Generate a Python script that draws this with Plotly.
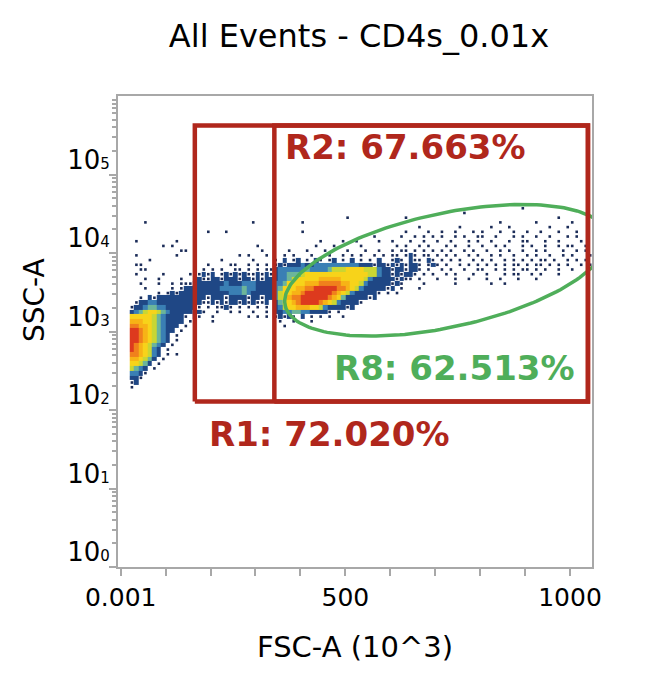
import numpy as np
import plotly.graph_objects as go

title_text = "All Events - CD4s_0.01x"
x_title = "FSC-A (10^3)"
y_title = "SSC-A"

# density map: FSC bins of 10 (x10^3), SSC bins of 0.06 decades,
# rows listed top (log10 SSC = 4.60) to bottom (2.20); "col:levels", "." = empty,
# 1 = single event, 2..9 = blue -> red density
fsc_step = 10
fsc_bins = 105
ssc_log_top = 4.60
ssc_log_step = 0.06

density_rows = [
    "89:1",
    "76:1",
    "50:1 63:1 97:1",
    "5:1 29:1 40:1 84:1 92:1 100:1",
    "66:1 75:1 82:1 86:1 95:1 99:1",
    "19:1 23:1 40:1 63:1 68:1 71:1 74:1 78:1 80:1 84:1 87:1 90:1 93:1 97:1 101:1",
    "56:1 60:..1..1.1.1 70:.1..1.1..1 80:1..1...1.1 90:..1..1...1 100:.1...",
    "3:1 12:1 44:1 49:1 52:1 57:1 60:1...1..1.. 70:1..1...1.1 80:..1...1..1 90:1...1..1.. 100:..1..",
    "9:1 11:1 30:1 43:1 47:1 53:1 60:.1.1..1.1. 70:..1.1..1.. 80:1..1.1...1 90:.1..1..1.1 100:1..1.",
    "13:1 14:1 31:1 37:1 41:1 45:1 50:1 54:1 57:1 60:1.11.1.1.1 70:.1.1..1.1. 80:.1..1.1..1 90:..1.1...1. 100:.1.1.",
    "3:1 12:1 26:1 28:1 32:1 36:1 38:1 42:1 46:1 49:1 51:1 53:1 56:1 58:1 60:11.121.11. 70:1.1.1..1.1 80:..1.1..1.. 90:1.1..1..1. 100:1...1",
    "6:1 22:1 29:1 34:1.2.12.1.21.12.1.2.1.1.2 60:121.211.21 70:.1.1.1..1. 80:1.1..1.1.1 90:.1.11.1..1 100:.1.1.",
    "3:1 4:1 17:..1....1...1.1.1 25:1 30:1 34:1212223223333333333222122121.1.1 60:2121221.12 70:1.1..1.1.1 80:.1.1.1.11. 90:1.11.1.1.1 100:..1.1",
    "4:1 5:1 17:.1.1.1..11.1.1.11 34:23333334333345556666555322222121 60:12.1221.1. 70:.1.1..1..1 80:1..1.1.1.1 90:1.1.1..1.. 100:1....",
    "3:1 9:1 15:1 17:1212.121212112121 34:2334445666666666666665532222121 60:1.1.21.1.1 70:..1.1...1. 80:.1...1.11. 90:.1.1...1..",
    "5:1 8:1 13:1 16:1 17:21122122212212122 34:233456666677777666665322222121 60:.1..1.1... 70:1...1..1.. 80:.1..1...1. 90:..1.......",
    "4:1 8:1 11:1 13:1 14:1 15:1 16:22 17:22222232223332222 34:3346666777888887766532222212 60:..1....1.. 70:....1..... 80:..1..1....",
    "5:1 11:1 13:12222 17:22222333334332222 34:346667788999998876532222212 62:1 66:1",
    "8:1 10:12122222 17:22222223334322222 34:356677899999987653222221 59:1 61:1",
    "4:1 6:212222222222 17:22122212222122122 34:35678899999987642222212",
    "3:122332222222222 17:2112121221212112 34:24667899998765322221",
    "2:1223443322222221 17:1.1.1121.1.1.1.1 34:235667776653222212",
    "2:2345665432222212 17:.1..1..1.1..1..1 34:2233443322221.1",
    "2:6666654322221.21 20:1 28:1 30:1 32:1 34:12121.2.1.1.1..1",
    "2:777665432222.1 20:1 35:1..1...1",
    "2:88776543222.1 16:1 36:1",
    "2:9987654322.1",
    "2:998765432.1",
    "2:998765432.1",
    "2:98765432.1",
    "2:9876532.1",
    "2:8876532.1 12:1",
    "2:776542.1",
    "2:66542.1",
    "2:5432.1",
    "2:3321",
    "2:221",
    "2:12",
    "2:1",
    "",
]

event_color = "#1b2c58"
level_colors = ["#1f4785", "#3a7fb4", "#6cb59a", "#c9d633",
                "#f7d31a", "#f7b316", "#f0801c", "#dd3a1e"]

# gates
gate_red = "#b0271c"
gate_green = "#4fae5a"
r1_fsc = [165, 1040]
r2_fsc = [342, 1040]
gate_ssc = [128, 420000]
r8_center = [725, 3.78]      # fsc, log10 ssc
r8_axis_a = [360, 0.395]
r8_axis_b = [0, 0.74]

labels = ["R1: 72.020%", "R2: 67.663%", "R8: 62.513%"]
label_fsc = [192, 361, 470]
label_log_ssc = [1.69, 5.35, 2.54]
label_colors = [gate_red, gate_red, gate_green]

x_tick_vals = [0.001, 100, 200, 300, 400, 500, 600, 700, 800, 900, 1000]
x_tick_text = ["0.001", "", "", "", "", "500", "", "", "", "", "1000"]
y_tick_vals = [1, 10, 100, 1000, 10000, 100000]
y_tick_text = ["10<span style='font-size:15px'>%d</span>" % i for i in range(6)]
y_minor_vals = [k * 10 ** n for n in range(6) for k in range(2, 10)]

axis_grey = "#a8a8a8"


def parse_rows(rows, n_cols):
    grid = np.zeros((len(rows), n_cols), dtype=int)
    for r, row in enumerate(rows):
        for token in row.split():
            col, chars = token.split(":")
            for i, ch in enumerate(chars):
                c = int(col) + i
                if ch != "." and c < n_cols:
                    grid[r, c] = int(ch)
    return grid


grid = parse_rows(density_rows, fsc_bins)[::-1]
n_rows = grid.shape[0]
ssc_log_bottom = ssc_log_top - ssc_log_step * n_rows

x_edges = np.arange(fsc_bins + 1) * fsc_step
y_edges = 10 ** (ssc_log_bottom + ssc_log_step * np.arange(n_rows + 1))
z = np.where(grid >= 2, grid, np.nan)

colorscale = []
for i, col in enumerate(level_colors):
    colorscale += [[i / len(level_colors), col], [(i + 1) / len(level_colors), col]]

rr, cc = np.nonzero(grid == 1)
dot_x = (cc + 0.5) * fsc_step
dot_y = 10 ** (ssc_log_bottom + (rr + 0.5) * ssc_log_step)

fig = go.Figure()
fig.add_trace(go.Heatmap(
    x=x_edges, y=y_edges, z=z, colorscale=colorscale,
    zmin=1.5, zmax=9.5, showscale=False, hoverinfo="skip",
))
fig.add_trace(go.Scatter(
    x=dot_x, y=dot_y, mode="markers",
    marker=dict(symbol="square", size=2.6, color=event_color), hoverinfo="skip",
))

t = np.linspace(0, 2 * np.pi, 200)
ell_x = r8_center[0] + r8_axis_a[0] * np.cos(t) + r8_axis_b[0] * np.sin(t)
ell_y = 10 ** (r8_center[1] + r8_axis_a[1] * np.cos(t) + r8_axis_b[1] * np.sin(t))
fig.add_trace(go.Scatter(x=ell_x, y=ell_y, mode="lines",
                         line=dict(color=gate_green, width=3.5), hoverinfo="skip"))

for fsc in (r1_fsc, r2_fsc):
    fig.add_trace(go.Scatter(
        x=[fsc[0], fsc[1], fsc[1], fsc[0], fsc[0]],
        y=[gate_ssc[0], gate_ssc[0], gate_ssc[1], gate_ssc[1], gate_ssc[0]],
        mode="lines", line=dict(color=gate_red, width=4.5), hoverinfo="skip",
    ))

for text, x, y, col in zip(labels, label_fsc, label_log_ssc, label_colors):
    fig.add_annotation(x=x, y=y, text=text, showarrow=False, xanchor="left", yanchor="middle",
                       font=dict(family="DejaVu Sans", size=34, color=col, weight="bold"))

fig.add_annotation(text=y_title, xref="paper", yref="paper", x=(34 - 118) / 474,
                   y=(567 - 300) / 471, textangle=-90, showarrow=False,
                   xanchor="center", yanchor="middle", font=dict(size=28))

fig.update_layout(
    width=656, height=686,
    margin=dict(l=118, r=64, t=96, b=119),
    plot_bgcolor="white", paper_bgcolor="white",
    showlegend=False,
    font=dict(family="DejaVu Sans", color="black"),
    title=dict(text=title_text, xref="container", x=359 / 656, xanchor="center",
               yref="container", y=1 - 36 / 686, yanchor="middle", font=dict(size=32)),
)
fig.update_xaxes(
    range=[-6, 1049], tickvals=x_tick_vals, ticktext=x_tick_text,
    ticks="outside", ticklen=7, tickwidth=1.5, tickcolor=axis_grey,
    showline=True, linecolor=axis_grey, linewidth=2, mirror=True,
    showgrid=False, zeroline=False, tickfont=dict(size=25),
    title=dict(text=x_title, font=dict(size=29), standoff=26),
)
fig.update_yaxes(
    type="log", range=[0, 6], tickvals=y_tick_vals, ticktext=y_tick_text,
    ticks="outside", ticklen=7, tickwidth=1.5, tickcolor=axis_grey,
    minor=dict(tickvals=y_minor_vals, ticks="outside", ticklen=4, tickcolor=axis_grey),
    ticklabelshift=-15, ticklabelstandoff=-6,
    showline=True, linecolor=axis_grey, linewidth=2, mirror=True,
    showgrid=False, zeroline=False, tickfont=dict(size=26),
)

fig.write_html("out.html", config={"displayModeBar": False},
               post_script="document.body.style.margin = '0';")
